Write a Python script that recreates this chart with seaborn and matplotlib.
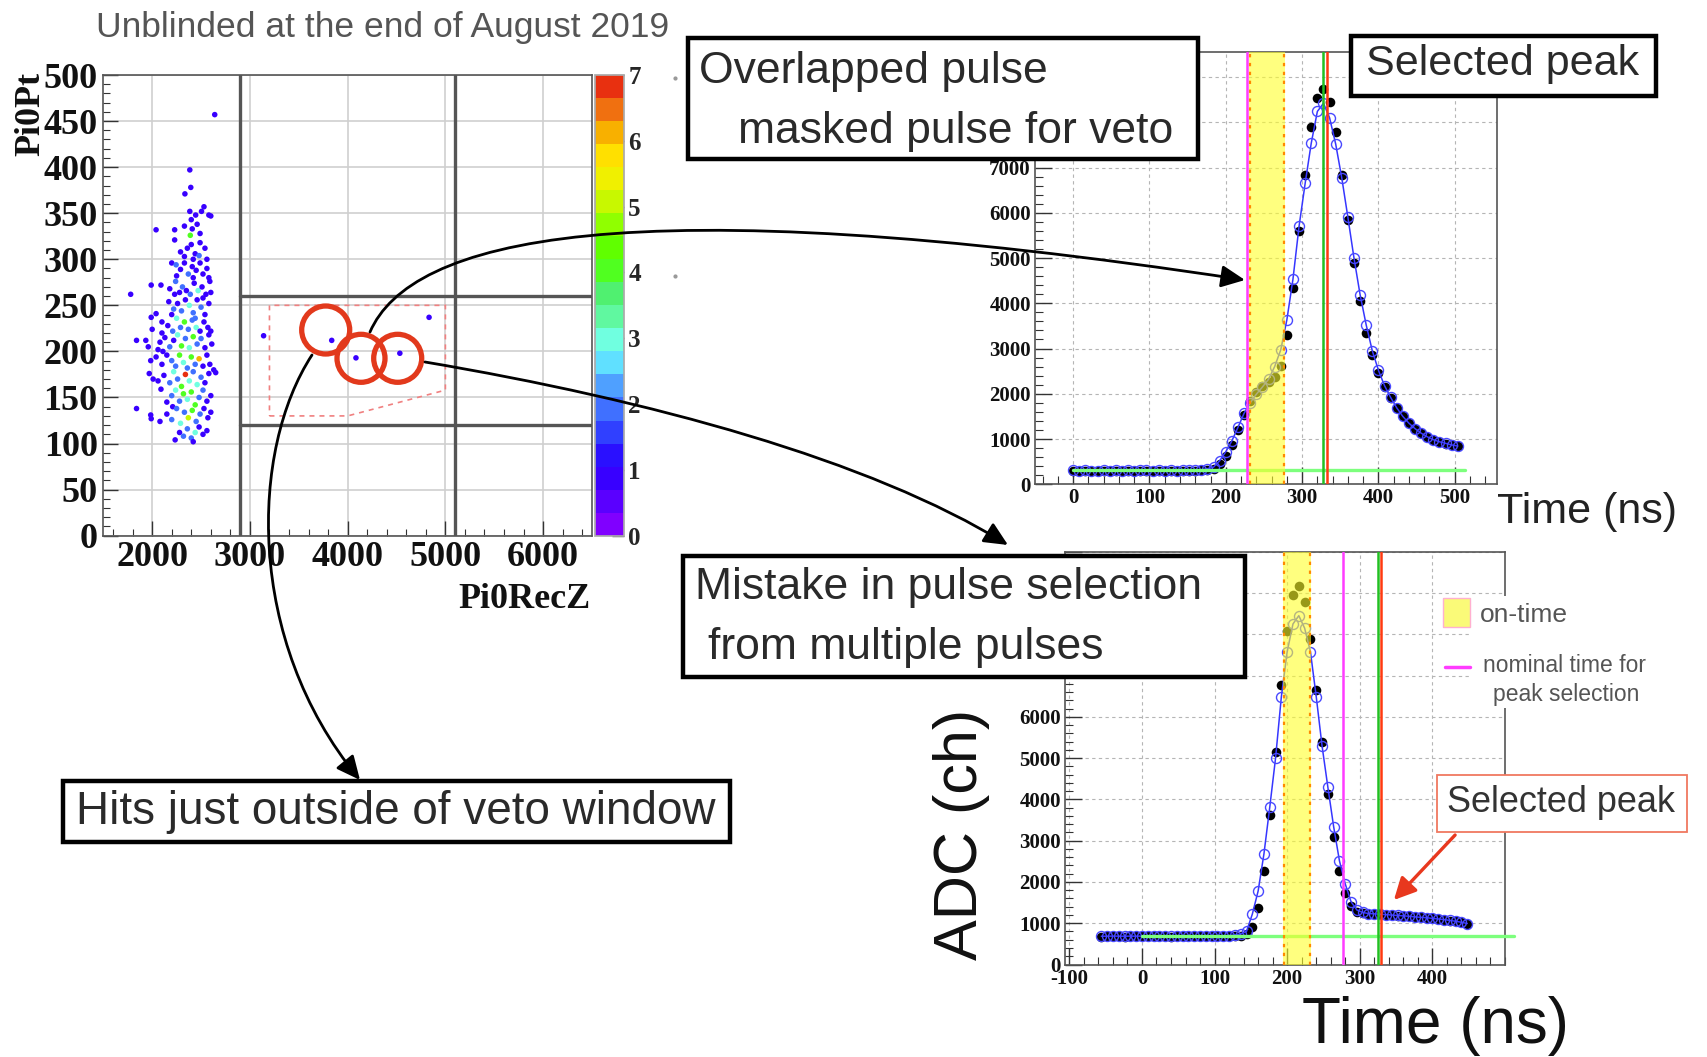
import matplotlib
matplotlib.use("Agg")
import numpy as np
import pandas as pd
import matplotlib.pyplot as plt
import seaborn as sns
from matplotlib.colors import ListedColormap, Normalize
from matplotlib.cm import ScalarMappable
from matplotlib.patches import Rectangle, Circle, FancyArrowPatch, Polygon
from matplotlib.path import Path
from matplotlib.ticker import MultipleLocator

# ---------------------------------------------------------------- data
# Pi0RecZ vs Pi0Pt 2D-histogram bins (Z [mm], Pt [MeV/c], entries)
bin_z = [2640, 2385, 2395, 2335,
         2530, 2505, 2580, 2600, 2385, 2400, 2445,
         2040, 2230, 2230, 2390, 2410, 2490, 2490, 2330, 2460,
         2360, 2400, 2440, 2480, 2540, 2330, 2420, 2560, 2290,
         2200, 2245, 2290, 2330, 2370, 2410, 2450, 2490, 2520, 2560, 2580, 2250, 2420,
         1780, 1990, 2090, 2180, 2230, 2240, 2280, 2310, 2350, 2390, 2430, 2470, 2510, 2550, 2590, 2600,
         1990, 2040, 2170, 2200, 2220, 2260, 2300, 2340, 2380, 2420, 2440, 2460, 2500, 2520, 2540, 2580,
         1840, 2000, 2100, 2100, 2160, 2210, 2250, 2290, 2330, 2370, 2410, 2450, 2490, 2530, 2570, 2600,
         1935, 1960, 2060, 2080, 2110, 2130, 2180, 2220, 2260, 2300, 2340, 2380, 2420, 2460, 2500, 2540, 2580, 2610,
         1985, 2040, 2100, 2150, 2200, 2240, 2280, 2320, 2360, 2400, 2440, 2480, 2520, 2560, 2590, 2630,
         1970, 2010, 2060, 2120, 2180, 2220, 2260, 2300, 2340, 2380, 2420, 2460, 2500, 2540, 2580, 2650,
         2090, 2150, 2200, 2210, 2240, 2280, 2320, 2360, 2400, 2440, 2480, 2520, 2560, 2600,
         1840, 1985, 1990, 2080, 2150, 2200, 2250, 2290, 2330, 2370, 2410, 2450, 2490, 2530, 2570, 2600,
         2235, 2280, 2320, 2360, 2400, 2420, 2440, 2480, 2520, 2560,
         3140, 3837, 4085, 4534, 4833]
bin_pt = [457, 397, 378, 371,
          357, 352, 348, 347, 352, 343, 348,
          332, 332, 321, 326, 333, 328, 318, 336, 338,
          312, 316, 306, 304, 312, 303, 300, 300, 308,
          296, 294, 289, 296, 284, 292, 288, 296, 284, 290, 280, 282, 280,
          262, 272, 272, 268, 262, 276, 264, 270, 266, 262, 274, 266, 270, 262, 276, 264,
          237, 241, 254, 240, 246, 252, 244, 256, 250, 242, 236, 256, 248, 258, 240, 252,
          212, 224, 232, 220, 228, 222, 236, 226, 232, 224, 234, 226, 222, 232, 226, 222,
          212, 205, 202, 210, 200, 215, 205, 212, 218, 206, 214, 204, 216, 208, 214, 204, 218, 208,
          190, 194, 186, 196, 190, 184, 196, 188, 182, 194, 186, 192, 184, 196, 186, 180,
          176, 170, 168, 174, 166, 178, 170, 162, 175, 168, 178, 164, 172, 166, 176, 177,
          159, 145, 152, 140, 158, 146, 154, 148, 156, 142, 150, 158, 146, 152,
          138, 131, 127, 124, 132, 126, 138, 122, 134, 128, 136, 124, 132, 138, 128, 134,
          104, 112, 108, 116, 106, 102, 112, 118, 110, 114,
          217, 212, 193, 198, 237]
bin_n = [1, 1, 1, 1,
         1, 1, 1, 1, 1, 1, 1,
         1, 1, 1, 4, 1, 1, 1, 1, 1,
         1, 1, 1, 2, 1, 1, 1, 1, 1,
         1, 2, 1, 1, 2, 1, 1, 1, 1, 1, 1, 1, 1,
         1, 1, 1, 1, 1, 2, 1, 2, 1, 2, 1, 3, 1, 1, 1, 1,
         1, 1, 1, 1, 2, 1, 2, 1, 3, 2, 2, 1, 2, 1, 1, 1,
         1, 1, 1, 1, 1, 2, 3, 2, 4, 2, 2, 3, 1, 1, 1, 1,
         1, 1, 1, 1, 1, 1, 2, 1, 3, 4, 2, 3, 4, 2, 2, 1, 1, 1,
         1, 1, 1, 1, 2, 2, 4, 3, 2, 4, 2, 6, 1, 1, 1, 1,
         1, 1, 1, 1, 2, 3, 2, 4, 7, 3, 2, 3, 2, 1, 1, 1,
         1, 1, 2, 1, 3, 2, 4, 3, 4, 4, 2, 2, 1, 1,
         1, 1, 1, 1, 1, 2, 2, 3, 2, 5, 4, 2, 2, 1, 1, 1,
         1, 1, 2, 2, 2, 1, 3, 1, 1, 1,
         1, 1, 1, 1, 1]
veto_box_z = [2900, 5100]
veto_box_pt = [120, 260]
signal_region = [(3200, 130), (4000, 130), (5000, 158), (5000, 250), (3200, 250)]

# Waveform 1 (overlapped pulse), sampled every 8 ns
wf1_time = list(range(0, 512, 8))
wf1_adc = [300, 298, 302, 300, 297, 301, 300, 303, 299, 300, 298, 301,
           300, 302, 299, 300, 301, 298, 300, 302, 300, 305, 310, 330,
           450, 620, 870, 1200, 1530, 1850, 2050, 2170, 2260, 2380, 2620, 3300,
           4330, 5590, 6840, 7890, 8530, 8730, 8440, 7780, 6840, 5840, 4900, 4040,
           3340, 2860, 2450, 2160, 1900, 1680, 1500, 1350, 1220, 1130, 1040, 980,
           940, 900, 870, 840]
wf1_fit = [305, 303, 306, 304, 302, 305, 304, 306, 303, 305, 304, 306,
           305, 303, 305, 304, 306, 304, 305, 306, 310, 320, 345, 380,
           520, 720, 960, 1260, 1570, 1800, 1990, 2150, 2320, 2600, 2970, 3630,
           4530, 5700, 6650, 7540, 8240, 8420, 8100, 7520, 6770, 5900, 5000, 4190,
           3520, 2950, 2520, 2180, 1920, 1690, 1500, 1350, 1230, 1130, 1050, 985,
           940, 905, 870, 845]
wf1_ontime = (230, 278)
wf1_ontime_edges = [232, 276]
wf1_nominal = 228
wf1_selected = [327, 332]
wf1_pedestal = 310

# Waveform 2 (multiple pulses), sampled every 8 ns
wf2_time = list(range(-56, 456, 8))
wf2_adc = [670, 680, 685, 680, 678, 682, 680, 684, 679, 681, 680, 683, 678,
           680, 682, 679, 681, 680, 683, 680, 682, 680, 684, 690, 700,
           740, 900, 1380, 2270, 3610, 5150, 6770, 8090, 8940, 9160, 8770, 7880,
           6650, 5390, 4140, 3100, 2270, 1740, 1420, 1280, 1240,
           1230, 1225, 1215, 1205, 1195, 1185, 1175, 1165, 1150, 1140, 1130, 1115,
           1100, 1085, 1065, 1045, 1020, 990]
wf2_fit = [684, 686, 688, 686, 685, 687, 686, 688, 685, 687, 686, 688, 685,
           686, 688, 686, 687, 686, 688, 690, 692, 695, 700, 715, 740,
           800, 1220, 1780, 2680, 3810, 5000, 6490, 7580, 8250, 8450, 8150, 7580,
           6490, 5300, 4300, 3340, 2510, 1950, 1520, 1320, 1260,
           1235, 1228, 1218, 1208, 1198, 1188, 1178, 1168, 1153, 1143, 1133, 1118,
           1103, 1088, 1068, 1048, 1023, 993]
wf2_ontime = (194, 233)
wf2_ontime_edges = [195, 232]
wf2_nominal = 276.5
wf2_selected = [325.5, 329]
wf2_pedestal = 690

scatter_xticks = [2000, 3000, 4000, 5000, 6000]
scatter_yticks = list(range(0, 501, 50))
cbar_ticks = list(range(0, 8))
wf1_xticks = [0, 100, 200, 300, 400, 500]
wf1_yticks = list(range(0, 10000, 1000))
wf1_ylabels = ["0", "1000", "2000", "3000", "4000", "5000", "6000", "7000", "", ""]
wf2_xticks = [-100, 0, 100, 200, 300, 400]
wf2_yticks = list(range(0, 10001, 1000))
wf2_ylabels = ["0", "1000", "2000", "3000", "4000", "5000", "6000", "", "", "", ""]

# ---------------------------------------------------------------- style
sns.set_theme(style="white")
plt.rcParams["font.family"] = ["Liberation Sans", "DejaVu Sans"]
SERIF = ["Liberation Serif", "DejaVu Serif"]

W, H = 1708.0, 1057.0
fig = plt.figure(figsize=(W / 100, H / 100), dpi=100)
fig.patch.set_facecolor("white")


def px_axes(left, top, right, bottom, **kw):
    return fig.add_axes([left / W, 1 - bottom / H, (right - left) / W, (bottom - top) / H], **kw)


def style_ticks(ax, xt, yt, size, xlabels=None, ylabels=None, pad=3):
    ax.set_xticks(xt)
    ax.set_yticks(yt)
    ax.set_xticklabels(xlabels if xlabels is not None else [str(v) for v in xt],
                       fontfamily=SERIF, fontweight="bold", fontsize=size)
    ax.set_yticklabels(ylabels if ylabels is not None else [str(v) for v in yt],
                       fontfamily=SERIF, fontweight="bold", fontsize=size)
    ax.tick_params(which="both", direction="in", left=True, bottom=True,
                   colors="#333333", labelcolor="#111111", pad=pad)


palette_colors = ["#8000ff", "#5a00ff", "#3800ff", "#2a10ff", "#3040ff",
                  "#4070ff", "#4fa0ff", "#60e0ff", "#70ffe0", "#60f8a0",
                  "#50f070", "#50ff20", "#60ff00", "#90ff00", "#c8f800",
                  "#f0f000", "#ffe000", "#f8b000", "#f07010", "#e83010"]
cmap20 = ListedColormap(palette_colors)
norm = Normalize(0, 7)

# ---------------------------------------------------------------- scatter panel
ax1 = px_axes(103.3, 75, 592, 535.7)
df = pd.DataFrame({"Pi0RecZ": bin_z, "Pi0Pt": bin_pt, "n": bin_n})
ax1.grid(True, which="major", color="#cfcfcf", lw=1.2, zorder=0)
sns.scatterplot(data=df, x="Pi0RecZ", y="Pi0Pt", hue="n", palette=cmap20, hue_norm=norm,
                marker="o", s=16, linewidth=0, legend=False, ax=ax1, zorder=3)
ax1.set_xlim(1500, 6500)
ax1.set_ylim(0, 500)
for z in veto_box_z:
    ax1.axvline(z, color="#555555", lw=2.4, zorder=2)
for p in veto_box_pt:
    ax1.plot([veto_box_z[0], 6500], [p, p], color="#555555", lw=2.4, zorder=2)
ax1.add_patch(Polygon(signal_region, closed=True, fill=False, ls=(0, (3, 3)),
                      ec="#f08080", lw=1.2, zorder=2))
style_ticks(ax1, scatter_xticks, scatter_yticks, 26, pad=4)
ax1.xaxis.set_minor_locator(MultipleLocator(200))
ax1.yaxis.set_minor_locator(MultipleLocator(10))
ax1.tick_params(which="major", length=11, width=1)
ax1.tick_params(which="minor", length=5, width=0.8)
ax1.set_xlabel("")
ax1.set_ylabel("")
for sp in ax1.spines.values():
    sp.set_color("#555555")
    sp.set_linewidth(1.2)

cax = px_axes(595, 75, 624, 535.7)
cb = fig.colorbar(ScalarMappable(norm=norm, cmap=cmap20), cax=cax, ticks=cbar_ticks)
cb.outline.set_edgecolor("#aaaaaa")
cax.set_yticklabels([str(v) for v in cbar_ticks], fontfamily=SERIF, fontweight="bold", fontsize=18)
cax.tick_params(direction="in", length=9, width=1, color="#444444", pad=3)

# ---------------------------------------------------------------- waveform panels
def waveform(ax, t, adc, fit, ontime, edges, nominal, selected, pedestal, xlim, ylim):
    ax.grid(True, which="major", ls=(0, (3, 3)), color="#b5b5b5", lw=0.8, zorder=0)
    sns.scatterplot(x=t, y=adc, color="black", s=48, linewidth=0, ax=ax, zorder=3)
    sns.lineplot(x=t, y=fit, color="#3636ff", lw=1.1, marker="o", markersize=7.2,
                 markerfacecolor="none", markeredgecolor="#4848ff", markeredgewidth=1.0,
                 ax=ax, zorder=4)
    ax.plot([0, 513], [pedestal, pedestal], color="#7dff7d", lw=2.4, zorder=5, clip_on=False)
    ax.axvspan(ontime[0], ontime[1], color="#ffff2a", alpha=0.6, lw=0, zorder=6)
    for e in edges:
        ax.axvline(e, color="#ff8a00", ls=(0, (1.5, 2.5)), lw=1.6, zorder=7)
    ax.axvline(nominal, color="#ff3cff", lw=1.8, zorder=7)
    ax.axvline(selected[0], color="#22c022", lw=1.8, zorder=7)
    ax.axvline(selected[1], color="#ff3a10", lw=1.8, zorder=7)
    ax.set_xlim(*xlim)
    ax.set_ylim(*ylim)
    ax.set_xlabel("")
    ax.set_ylabel("")
    for sp in ax.spines.values():
        sp.set_color("#555555")
        sp.set_linewidth(1.2)


ax2 = px_axes(1035, 51.7, 1496.7, 484.3)
waveform(ax2, wf1_time, wf1_adc, wf1_fit, wf1_ontime, wf1_ontime_edges, wf1_nominal,
         wf1_selected, wf1_pedestal, (-50, 555), (0, 9560))
style_ticks(ax2, wf1_xticks, wf1_yticks, 15, ylabels=wf1_ylabels)
ax2.xaxis.set_minor_locator(MultipleLocator(20))
ax2.yaxis.set_minor_locator(MultipleLocator(200))
ax2.tick_params(which="major", length=12, width=1)
ax2.tick_params(which="minor", length=6, width=0.8)

ax3 = px_axes(1065, 551.7, 1505, 964.5)
waveform(ax3, wf2_time, wf2_adc, wf2_fit, wf2_ontime, wf2_ontime_edges, wf2_nominal,
         wf2_selected, wf2_pedestal, (-106, 500), (0, 10000))
style_ticks(ax3, wf2_xticks, wf2_yticks, 15, ylabels=wf2_ylabels)
ax3.xaxis.set_minor_locator(MultipleLocator(20))
ax3.yaxis.set_minor_locator(MultipleLocator(200))
ax3.tick_params(which="major", length=12, width=1)
ax3.tick_params(which="minor", length=6, width=0.8)

# ---------------------------------------------------------------- annotation overlay (pixel coords)
ov = fig.add_axes([0, 0, 1, 1], zorder=20)
ov.set_xlim(0, W)
ov.set_ylim(H, 0)
ov.axis("off")
ov.patch.set_alpha(0)

TXT = "#2a2a2a"
ov.text(96, 27, "Unblinded at the end of August 2019", fontsize=25.5, color="#555555",
        ha="left", va="center")
ov.text(31, 114, "Pi0Pt", rotation=90, fontfamily=SERIF, fontweight="bold", fontsize=26,
        ha="center", va="center", color="#111111")
ov.text(591, 600, "Pi0RecZ", fontfamily=SERIF, fontweight="bold", fontsize=26,
        ha="right", va="center", color="#111111")
ov.plot([675, 675], [78, 276], ls="none", marker="o", ms=2, color="#999999")

# red circles around the three candidate events
for cx, cy in [(325.7, 330), (361, 358.3), (397.7, 358.3)]:
    ov.add_patch(Circle((cx, cy), 24, fill=False, ec="#e2391c", lw=3.8, zorder=5))

# curved arrows
def curve(p0, p1, p2, p3, color="black", lw=2.0, ms=24):
    path = Path([p0, p1, p2, p3], [Path.MOVETO, Path.CURVE4, Path.CURVE4, Path.CURVE4])
    ov.add_patch(FancyArrowPatch(path=path, arrowstyle="-|>,head_length=0.6,head_width=0.28",
                                 mutation_scale=ms, lw=lw, color=color, zorder=6))


curve((370, 332), (410, 240), (620, 185), (1245, 280))
curve((312, 355), (250, 450), (245, 640), (360, 780))
curve((425, 362), (650, 400), (870, 460), (1008, 545))

# text boxes
def box(x0, y0, x1, y1, lw=3.2, ec="black"):
    ov.add_patch(Rectangle((x0, y0), x1 - x0, y1 - y0, fc="white", ec=ec, lw=lw, zorder=8))


box(688, 38, 1198, 159)
ov.text(699, 71, "Overlapped pulse", fontsize=32, color=TXT, ha="left", va="center", zorder=9)
ov.text(738, 131, "masked pulse for veto", fontsize=32, color=TXT, ha="left", va="center", zorder=9)

box(1351, 36, 1656, 96)
ov.text(1503, 64, "Selected peak", fontsize=31, color=TXT, ha="center", va="center", zorder=9)

box(683, 556, 1245, 677)
ov.text(695, 588, "Mistake in pulse selection", fontsize=32, color=TXT, ha="left", va="center", zorder=9)
ov.text(708, 648, "from multiple pulses", fontsize=32, color=TXT, ha="left", va="center", zorder=9)

box(63, 781, 730, 842)
ov.text(76, 812, "Hits just outside of veto window", fontsize=33, color=TXT, ha="left",
        va="center", zorder=9)

# axis titles of the waveform panels
ov.text(1497, 512, "Time (ns)", fontsize=31, color="#222222", ha="left", va="center")
ov.text(1302, 1026, "Time (ns)", fontsize=46, color="#111111", ha="left", va="center")
ov.text(962, 834, "ADC (ch)", fontsize=44, color="#111111", rotation=90, ha="center", va="center")

# legend of the lower waveform
ov.add_patch(Rectangle((1472, 596), 195, 112, fc="white", ec="none", zorder=3))
ov.add_patch(Rectangle((1443.3, 598.3), 26.7, 28.4, fc="#fafa78", ec="#ffb0d0", lw=1.0, zorder=4))
ov.text(1480, 615, "on-time", fontsize=19, color="#555555", ha="left", va="center", zorder=4)
ov.plot([1445, 1470], [666.7, 666.7], color="#ff3cff", lw=2.5, zorder=4)
ov.text(1483, 665, "nominal time for", fontsize=16.5, color="#555555", ha="left", va="center", zorder=4)
ov.text(1566, 695, "peak selection", fontsize=16.5, color="#555555", ha="center", va="center", zorder=4)

# selected peak (lower panel)
box(1436.7, 775, 1686.7, 831.7, lw=1.3, ec="#f07860")
ov.text(1561, 803, "Selected peak", fontsize=26, color="#333333", ha="center", va="center", zorder=9)
ov.add_patch(FancyArrowPatch((1457, 833), (1392, 902), arrowstyle="-|>,head_length=0.6,head_width=0.3",
                             mutation_scale=22, lw=2.4, color="#e8381e", zorder=9))

fig.savefig("out.png", dpi=100, facecolor="white")
